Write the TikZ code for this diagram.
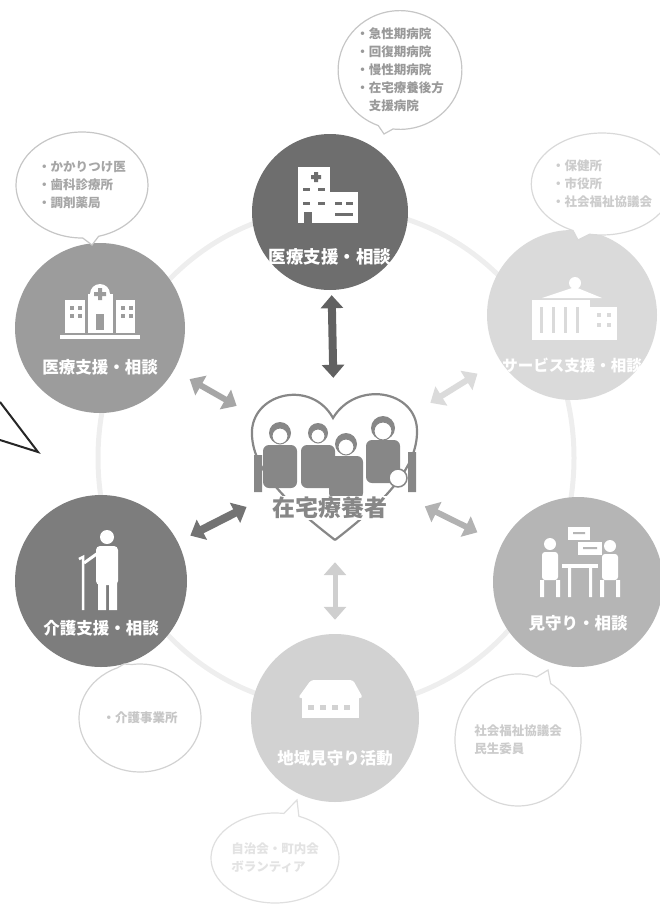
\documentclass[tikz,border=0pt]{standalone}
\usepackage{fontspec}
\setmainfont{Noto Sans CJK JP}
\usetikzlibrary{arrows.meta,shapes.callouts,positioning}

\definecolor{hubA}{RGB}{110,110,110}
\definecolor{hubB}{RGB}{156,156,156}
\definecolor{hubC}{RGB}{218,218,218}
\definecolor{hubD}{RGB}{125,125,125}
\definecolor{hubE}{RGB}{181,181,181}
\definecolor{hubF}{RGB}{210,210,210}
\definecolor{ringgray}{RGB}{238,238,238}
\definecolor{familygray}{RGB}{135,135,135}

\tikzset{
  hub/.style={circle, inner sep=0pt, fill=#1},
  hublabel/.style={text=white, inner sep=0pt, font=\bfseries\fontsize{16.5}{18}\selectfont},
  bubble/.style={ellipse callout, draw=gray!45, line width=1.2pt, fill=white,
    inner sep=0pt, align=left, callout pointer arc=14},
  bubbletext/.style={text=#1, font=\bfseries\fontsize{12.5}{18}\selectfont},
  link/.style={{Triangle[width=22pt,length=13pt]}-{Triangle[width=22pt,length=13pt]},
    line width=8pt, draw=#1},
  icon/.style={fill=white},
}

\begin{document}
\begin{tikzpicture}[x=1pt, y=-1pt]
\useasboundingbox (0,0) rectangle (659,918);

% ring behind the six hubs
\draw[ringgray, line width=5pt] (336,458) ellipse (238pt and 250pt);

% hubs
\node[hub=hubA, minimum size=156pt] (iryo) at (330,212) {};
\node[hub=hubB, minimum size=170pt] (kakari) at (100,328) {};
\node[hub=hubC, minimum size=170pt] (gyosei) at (572,315) {};
\node[hub=hubD, minimum size=172pt] (kaigo) at (101,581) {};
\node[hub=hubE, minimum size=170pt] (mimamori) at (578,582) {};
\node[hub=hubF, minimum size=168pt] (chiiki) at (335,718) {};

\node[hublabel, font=\bfseries\fontsize{17.5}{19}\selectfont] at ([yshift=-45pt]iryo.center) {医療支援・相談};
\node[hublabel] at ([yshift=-39pt]kakari.center) {医療支援・相談};
\node[hublabel, font=\bfseries\fontsize{15.5}{17}\selectfont] at ([yshift=-50pt]gyosei.center) {サービス支援・相談};
\node[hublabel] at ([yshift=-47pt]kaigo.center) {介護支援・相談};
\node[hublabel] at ([yshift=-41pt]mimamori.center) {見守り・相談};
\node[hublabel] at ([yshift=-40pt]chiiki.center) {地域見守り活動};

% hospital
\begin{scope}[shift={(iryo.center)}]
  \fill[icon] (-32,-45) rectangle (0,11);
  \fill[icon] (0,-20) rectangle (28,11);
  \fill[hubA] (-16,-40) rectangle (-12,-30) (-19,-37) rectangle (-9,-33);
  \foreach \x in {-27,-12} {
    \fill[hubA] (\x,-24) rectangle ++(7,3);
    \fill[hubA] (\x,-10) rectangle ++(7,3);
  }
  \foreach \x in {5,16} \fill[hubA] (\x,-10) rectangle ++(7,3);
  \fill[hubA] (5,1) rectangle ++(18,3);
  \fill[hubA] (-26,0) rectangle (-18,11);
\end{scope}

% clinic
\begin{scope}[shift={(kakari.center)}]
  \fill[icon] (-12,-34) rectangle (13,5);
  \fill[icon] (0,-34) circle (10pt);
  \fill[hubB] (-2,-40) rectangle (2,-28) (-6,-36) rectangle (6,-32);
  \fill[icon] (-35,-28) rectangle (-15,5);
  \fill[icon] (16,-28) rectangle (35,5);
  \fill[icon] (-40,7) rectangle (40,11);
  \foreach \x in {-30,-22,21,29}
    \foreach \y in {-22,-14}
      \fill[hubB] (\x,\y) rectangle ++(4,4);
  \fill[hubB] (-4,-14) rectangle (4,2);
\end{scope}

% city hall
\begin{scope}[shift={(gyosei.center)}]
  \fill[icon] (3,-32) circle (6pt);
  \fill[icon] (-30,-17) -- (3,-28) -- (30,-17) -- cycle;
  \fill[icon] (-40,-15) rectangle (18,25);
  \fill[icon] (18,-8) rectangle (45,25);
  \foreach \x in {-32,-20,-8,4}
    \fill[hubC] (\x,-8) rectangle ++(3,26);
  \foreach \y in {-2,8}
    \foreach \x in {25,35}
      \fill[hubC] (\x,\y) rectangle ++(4,4);
\end{scope}

% elderly person with a cane
\begin{scope}[shift={(kaigo.center)}]
  \fill[icon] (6,-44) circle (7pt);
  \fill[icon, rounded corners=4pt] (-5,-35) rectangle (17,4);
  \fill[icon] (-3,2) rectangle (5,29) (8,2) rectangle (16,29);
  \draw[white, line width=3pt] (-3,-28) -- (-17,-18);
  \draw[white, line width=2.5pt] (-22,-22) -- (-18,-24) -- (-18,29);
\end{scope}

% two people at a desk
\begin{scope}[shift={(mimamori.center)}]
  \fill[icon] (-10,-55) rectangle (12,-42);
  \fill[icon] (0,-40) rectangle (24,-27);
  \fill[hubE] (-5,-50) rectangle ++(12,2) (5,-35) rectangle ++(14,2);
  \fill[icon] (-28,-38) circle (6pt) (32,-36) circle (6pt);
  \fill[icon, rounded corners=3pt] (-36,-30) rectangle (-20,-2);
  \fill[icon, rounded corners=3pt] (24,-28) rectangle (40,-2);
  \fill[icon] (-38,-2) rectangle (-34,15) (-22,-2) rectangle (-18,15);
  \fill[icon] (22,-2) rectangle (26,15) (38,-2) rectangle (42,15);
  \fill[icon] (-16,-18) rectangle (20,-14);
  \fill[icon] (-10,-14) rectangle (-7,15) (11,-14) rectangle (14,15);
\end{scope}

% house
\begin{scope}[shift={(chiiki.center)}]
  \fill[icon, rounded corners=3pt] (-37,-20) -- (-24,-38) -- (18,-38) -- (28,-20) -- cycle;
  \fill[icon] (-33,-20) rectangle (24,0);
  \foreach \x in {-27,-15,-3,9}
    \fill[hubF] (\x,-13) rectangle ++(6,5);
\end{scope}

% speech bubbles
\node[bubble, minimum width=115pt, minimum height=116pt,
  callout absolute pointer={(384,134)}, bubbletext=gray!80] (byoin) at (400,70)
  {・急性期病院\\ ・回復期病院\\ ・慢性期病院\\ ・在宅療養後方\\ \quad 支援病院};
\node[bubble, minimum width=132pt, minimum height=106pt,
  callout absolute pointer={(92,245)}, bubbletext=gray!70] (shinryo) at (82,185)
  {・かかりつけ医\\ ・歯科診療所\\ ・調剤薬局};
\node[bubble, minimum width=128pt, minimum height=102pt, draw=gray!30,
  callout absolute pointer={(578,240)}, bubbletext=gray!40] (hoken) at (602,184)
  {・保健所\\ ・市役所\\ ・社会福祉協議会};
\node[bubble, minimum width=122pt, minimum height=108pt, draw=gray!35,
  callout absolute pointer={(124,664)}, bubbletext=gray!45] (jigyo) at (140,718)
  {・介護事業所};
\node[bubble, minimum width=126pt, minimum height=132pt, draw=gray!30,
  callout absolute pointer={(548,670)}, bubbletext=gray!40] (fukushi) at (518,740)
  {社会福祉協議会\\ 民生委員};
\node[bubble, minimum width=128pt, minimum height=90pt, draw=gray!25,
  callout absolute pointer={(297,800)}, bubbletext=gray!22] (jichi) at (275,858)
  {自治会・町内会\\ ボランティア};

% heart with the family
\node[circle, minimum size=160pt, inner sep=0pt] (ryoyo) at (335,462) {};
\draw[familygray, line width=2.2pt] (335,540) .. controls (290,505) and (250,470) .. (252,430)
  .. controls (255,392) and (312,380) .. (333,418)
  .. controls (356,380) and (416,390) .. (417,430)
  .. controls (418,470) and (380,505) .. (335,540);
\fill[gray!35] (305,462) rectangle (352,487);
\foreach \px/\py/\r in {280/433/11, 318/433/10, 346/444/11, 383/428/12} {
  \fill[familygray, rounded corners=6pt] (\px-17,\py+12) rectangle (\px+17,\py+55);
  \fill[familygray] (\px,\py) circle (\r pt);
  \filldraw[fill=white, draw=familygray, line width=1pt] (\px,\py+3) circle (\r pt-3pt);
}
\fill[familygray] (254,455) rectangle (262,492) (408,452) rectangle (416,492);
\filldraw[fill=white, draw=familygray, line width=1.5pt] (398,478) circle (9pt);
\node[text=familygray, font=\bfseries\fontsize{23}{25}\selectfont, fill=white,
  inner sep=1pt] (ryoyotext) at (330,508) {在宅療養者};

% links between hubs and the patient
\draw[link=black!62, shorten <=5pt, shorten >=4pt] (iryo) -- (ryoyo);
\draw[link=gray!70, line width=6pt, shorten <=18pt, shorten >=33pt] (kakari) -- (ryoyo);
\draw[link=gray!28, line width=6pt, shorten <=26pt, shorten >=32pt] (gyosei) -- (ryoyo);
\draw[link=black!55, shorten <=14pt, shorten >=19pt] (kaigo) -- (ryoyo);
\draw[link=gray!60, line width=6pt, shorten <=27pt, shorten >=20pt] (mimamori) -- (ryoyo);
\draw[link=gray!38, line width=5pt, shorten <=14pt, shorten >=20pt] (chiiki) -- (ryoyo);

% pointer at the left edge
\draw[black!85, line width=2pt, line join=miter] (0,402) -- (38,452) -- (0,440);
\end{tikzpicture}
\end{document}
